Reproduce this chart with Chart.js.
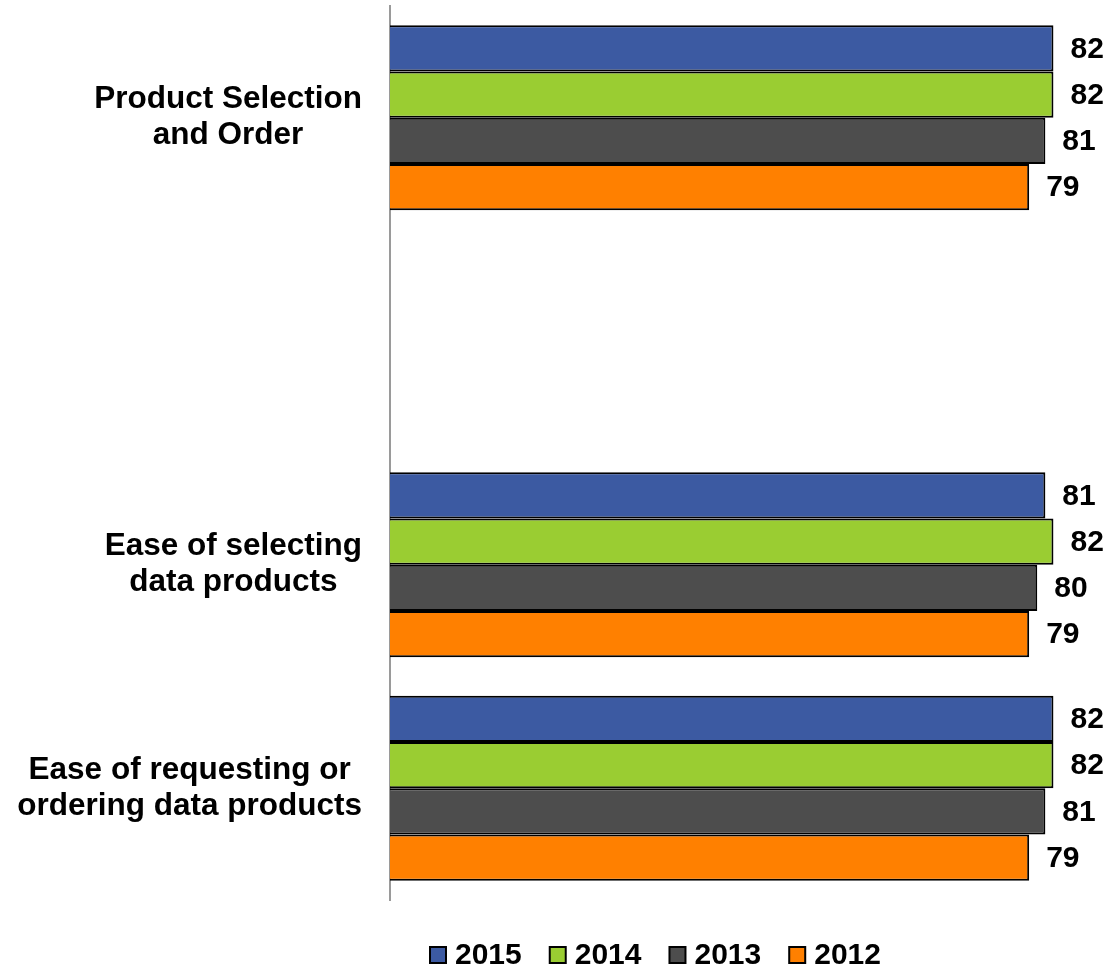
<!DOCTYPE html>
<html>
<head>
<meta charset="utf-8">
<script src="https://cdn.jsdelivr.net/npm/chart.js@4"></script>
<style>
  html, body { margin: 0; padding: 0; background: #fff; }
  #wrap { width: 1108px; height: 968px; }
</style>
</head>
<body>
<div id="wrap"><canvas id="ratingChart" width="1108" height="968"></canvas></div>
<script>
// categories (the blank one keeps the gap after the first group)
const categories = [
  ['Product Selection', 'and Order'],
  '',
  ['Ease of selecting', 'data products'],
  ['Ease of requesting or', 'ordering data products']
];
const years = ['2015', '2014', '2013', '2012'];
const scores2015 = [82, null, 81, 82];
const scores2014 = [82, null, 82, 82];
const scores2013 = [81, null, 80, 81];
const scores2012 = [79, null, 79, 79];

const yearColors = ['#3C5AA2', '#9ACD32', '#4D4D4D', '#FF8000'];
const FONT = '"Liberation Sans", Arial, sans-serif';

const datasets = [scores2015, scores2014, scores2013, scores2012].map((vals, i) => ({
  label: years[i],
  data: vals,
  backgroundColor: yearColors[i],
  borderColor: '#000',
  borderWidth: 2,
  categoryPercentage: 0.828,
  barPercentage: 1.0
}));

// category labels, value labels and the legend row
const extras = {
  id: 'extras',
  afterDraw(chart) {
    const ctx = chart.ctx;
    const yScale = chart.scales.y;
    ctx.save();
    ctx.fillStyle = '#000';
    ctx.textBaseline = 'middle';

    // category labels: lines centred on each other, widest line ends at 362
    ctx.font = 'bold 31.5px ' + FONT;
    ctx.textAlign = 'center';
    categories.forEach((cat, i) => {
      const lines = Array.isArray(cat) ? cat : [cat];
      if (!lines[0]) return;
      const maxW = Math.max(...lines.map(l => ctx.measureText(l).width));
      const cx = 362 - maxW / 2;
      const cy = yScale.getPixelForValue(i);
      const lh = 36;
      lines.forEach((l, j) => {
        ctx.fillText(l, cx, cy + (j - (lines.length - 1) / 2) * lh);
      });
    });

    // value labels at the bar ends
    ctx.font = 'bold 30px ' + FONT;
    ctx.textAlign = 'left';
    chart.data.datasets.forEach((ds, di) => {
      chart.getDatasetMeta(di).data.forEach((bar, i) => {
        const v = ds.data[i];
        if (v === null) return;
        ctx.fillText(String(v), bar.x + 17, bar.y + 1);
      });
    });

    // legend
    ctx.font = 'bold 30px ' + FONT;
    let x = 430;
    const ly = 955;
    chart.data.datasets.forEach(ds => {
      ctx.fillStyle = ds.backgroundColor;
      ctx.fillRect(x, ly - 8, 16, 16);
      ctx.strokeStyle = '#000';
      ctx.lineWidth = 2;
      ctx.strokeRect(x, ly - 8, 16, 16);
      ctx.fillStyle = '#000';
      ctx.fillText(ds.label, x + 25, ly + 1);
      x += 25 + ctx.measureText(ds.label).width + 28;
    });
    ctx.restore();
  }
};

const ctx = document.getElementById('ratingChart').getContext('2d');
const ratingChart = new Chart(ctx, {
  type: 'bar',
  data: {
    labels: categories,
    datasets: datasets
  },
  options: {
    indexAxis: 'y',
    responsive: false,
    animation: false,
    layout: { padding: { top: 6, right: 6, bottom: 68, left: 0 } },
    plugins: {
      legend: { display: false },
      tooltip: { enabled: false }
    },
    scales: {
      x: {
        display: false,
        min: 0,
        max: 88
      },
      y: {
        grid: { display: false },
        border: { display: true, color: '#9A9A9A', width: 2 },
        ticks: { display: false },
        afterFit: scale => { scale.width = 390; }
      }
    }
  },
  plugins: [extras]
});
</script>
</body>
</html>
